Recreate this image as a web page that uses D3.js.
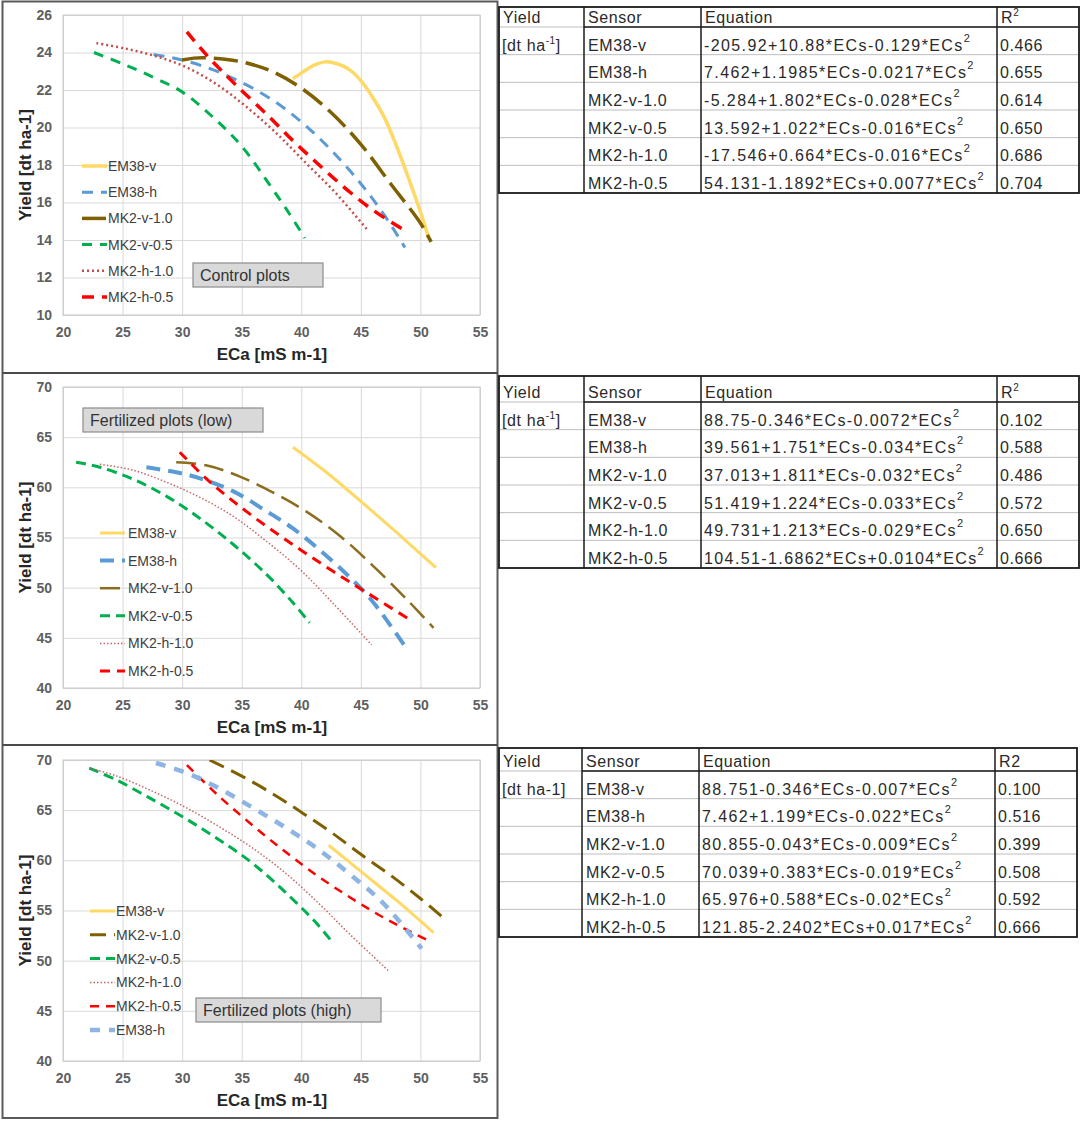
<!DOCTYPE html>
<html>
<head>
<meta charset="utf-8">
<script src="https://cdn.jsdelivr.net/npm/d3@7"></script>
<style>body{margin:0;background:#fff}</style>
</head>
<body>
<script>
// axis ticks
const xTicks = [20, 25, 30, 35, 40, 45, 50, 55];
const yTicksCtrl = [10, 12, 14, 16, 18, 20, 22, 24, 26];
const yTicksFert = [40, 45, 50, 55, 60, 65, 70];

// control plots, [ECa, yield]
const ctrlEM38v = [[39.3,22.6],[40,22.9],[41,23.3],[42,23.5],[43,23.4],[44,23.1],[45,22.5],[46,21.6],[47,20.5],[48,19.0],[49,17.3],[50,15.5],[50.7,14.1]];
const ctrlEM38h = [[27.6,23.9],[30,23.6],[32.5,23.1],[35,22.4],[37.5,21.5],[40,20.3],[42.5,18.8],[45,17.0],[47,15.3],[48.7,13.6]];
const ctrlMK2v10 = [[30,23.6],[31,23.7],[32.5,23.7],[35,23.5],[37.5,23.0],[40,22.1],[42.5,20.8],[45,19.1],[47.5,17.0],[50,14.9],[50.9,13.9]];
const ctrlMK2v05 = [[22.6,24.0],[25,23.4],[27.5,22.7],[30,21.9],[32.5,20.6],[35,19.0],[37.5,16.8],[39,15.4],[40.3,14.1]];
const ctrlMK2h10 = [[22.8,24.5],[25.3,24.2],[27.8,23.8],[30.4,23.2],[32.9,22.3],[35.4,21.1],[37.9,19.7],[40.4,18.1],[42.9,16.5],[45.6,14.5]];
const ctrlMK2h05 = [[30.4,25.1],[32,23.9],[34.3,22.4],[37.1,20.7],[39.3,19.3],[41.5,18.0],[43.8,16.7],[46,15.6],[48.7,14.5]];

// fertilized (low)
const lowEM38v = [[39.3,64.0],[42,61.6],[45,58.6],[48,55.5],[51.3,52.0]];
const lowEM38h = [[27,62.0],[29.5,61.5],[31.5,60.9],[34.3,59.6],[37.1,57.6],[39.3,55.9],[41.5,53.8],[44.1,51.0],[46,48.6],[48.8,44.0]];
const lowMK2v10 = [[29.5,62.5],[32,62.2],[34.8,61.1],[37.6,59.5],[40.4,57.6],[43.2,55.2],[46,52.2],[48.8,48.9],[51.1,46.0]];
const lowMK2v05 = [[21.1,62.5],[23.1,62.0],[25.9,60.8],[28.7,59.1],[31.5,56.9],[34.3,54.3],[37.1,51.3],[39.3,48.5],[40.7,46.5]];
const lowMK2h10 = [[23.1,62.3],[25.9,61.7],[28.7,60.5],[31.5,59.0],[34.3,57.1],[37.1,54.6],[39.9,51.8],[42.7,48.4],[45.9,44.3]];
const lowMK2h05 = [[29.8,63.5],[32,60.9],[34.3,58.6],[37.1,56.1],[39.9,53.8],[42.7,51.6],[45.5,49.5],[49.4,46.6]];

// fertilized (high)
const highEM38v = [[42.3,61.5],[45,58.9],[48,56.0],[51.1,52.8]];
const highMK2v10 = [[32.3,70.0],[35,68.4],[37.5,66.7],[40,64.8],[42.5,62.8],[45,60.6],[47.5,58.5],[50,56.2],[52,54.2]];
const highMK2v05 = [[22.2,69.2],[24.5,68.0],[27.3,66.2],[30.1,64.3],[32.9,62.2],[35.7,59.9],[38.5,57.0],[41.3,53.7],[42.7,51.7]];
const highMK2h10 = [[22.2,69.2],[24.5,68.4],[27.3,67.0],[30.1,65.4],[32.9,63.5],[35.7,61.4],[38.5,58.9],[41.3,55.9],[44.1,52.6],[47.4,48.9]];
const highMK2h05 = [[30.4,69.5],[32.9,66.6],[35.7,63.7],[38.5,61.0],[41.3,58.5],[44.1,56.3],[46.9,54.3],[50.5,52.1]];
const highEM38h = [[27.8,69.7],[30.4,68.7],[32.9,67.3],[35.7,65.4],[38.5,63.4],[41.3,61.2],[44.1,58.6],[46.9,55.7],[50.1,51.2]];

// tables
const tableSensors = ["EM38-v", "EM38-h", "MK2-v-1.0", "MK2-v-0.5", "MK2-h-1.0", "MK2-h-0.5"];
const eqCtrl = ["-205.92+10.88*ECs-0.129*ECs", "7.462+1.1985*ECs-0.0217*ECs", "-5.284+1.802*ECs-0.028*ECs",
                "13.592+1.022*ECs-0.016*ECs", "-17.546+0.664*ECs-0.016*ECs", "54.131-1.1892*ECs+0.0077*ECs"];
const r2Ctrl = ["0.466", "0.655", "0.614", "0.650", "0.686", "0.704"];
const eqLow = ["88.75-0.346*ECs-0.0072*ECs", "39.561+1.751*ECs-0.034*ECs", "37.013+1.811*ECs-0.032*ECs",
               "51.419+1.224*ECs-0.033*ECs", "49.731+1.213*ECs-0.029*ECs", "104.51-1.6862*ECs+0.0104*ECs"];
const r2Low = ["0.102", "0.588", "0.486", "0.572", "0.650", "0.666"];
const eqHigh = ["88.751-0.346*ECs-0.007*ECs", "7.462+1.199*ECs-0.022*ECs", "80.855-0.043*ECs-0.009*ECs",
                "70.039+0.383*ECs-0.019*ECs", "65.976+0.588*ECs-0.02*ECs", "121.85-2.2402*ECs+0.017*ECs"];
const r2High = ["0.100", "0.516", "0.399", "0.508", "0.592", "0.666"];

const font = "'Liberation Sans', Arial, sans-serif";
const svg = d3.select("body").append("svg")
    .attr("width", 1084).attr("height", 1129)
    .style("font-family", font);

const x = d3.scaleLinear().domain([20, 55]).range([63, 480]);

const panels = [
  {top: 15, bottom: 315, domain: [10, 26], ticks: yTicksCtrl, label: "Control plots", box: [193, 263, 130, 24],
   legend: {x0: 82, x1: 107, tx: 108, y0: 166, dy: 26.2},
   series: [
     {name: "EM38-v", data: ctrlEM38v, color: "#ffd966", w: 3.5, dash: null},
     {name: "EM38-h", data: ctrlEM38h, color: "#5b9bd5", w: 3, dash: "11,8"},
     {name: "MK2-v-1.0", data: ctrlMK2v10, color: "#7f6000", w: 3.5, dash: "24,8"},
     {name: "MK2-v-0.5", data: ctrlMK2v05, color: "#00b050", w: 3, dash: "10,8"},
     {name: "MK2-h-1.0", data: ctrlMK2h10, color: "#c0504d", w: 2.5, dash: "2,3"},
     {name: "MK2-h-0.5", data: ctrlMK2h05, color: "#ff0000", w: 3.5, dash: "12,8"}
   ]},
  {top: 387, bottom: 688, domain: [40, 70], ticks: yTicksFert, label: "Fertilized plots (low)", box: [83, 408, 180, 24],
   legend: {x0: 100, x1: 125, tx: 128, y0: 533, dy: 27.6},
   series: [
     {name: "EM38-v", data: lowEM38v, color: "#ffd966", w: 3, dash: null},
     {name: "EM38-h", data: lowEM38h, color: "#5b9bd5", w: 4, dash: "14,8"},
     {name: "MK2-v-1.0", data: lowMK2v10, color: "#8c6d1f", w: 2.5, dash: "20,8"},
     {name: "MK2-v-0.5", data: lowMK2v05, color: "#00b050", w: 3, dash: "10,6"},
     {name: "MK2-h-1.0", data: lowMK2h10, color: "#c86464", w: 1.5, dash: "1.5,2"},
     {name: "MK2-h-0.5", data: lowMK2h05, color: "#ff0000", w: 3, dash: "10,7"}
   ]},
  {top: 760, bottom: 1061, domain: [40, 70], ticks: yTicksFert, label: "Fertilized plots (high)", box: [196, 998, 185, 24],
   legend: {x0: 90, x1: 115, tx: 116, y0: 911, dy: 23.8},
   series: [
     {name: "EM38-v", data: highEM38v, color: "#ffd966", w: 3, dash: null},
     {name: "MK2-v-1.0", data: highMK2v10, color: "#7f6000", w: 3, dash: "16,8"},
     {name: "MK2-v-0.5", data: highMK2v05, color: "#00b050", w: 3, dash: "10,6"},
     {name: "MK2-h-1.0", data: highMK2h10, color: "#c86464", w: 1.5, dash: "1.5,2"},
     {name: "MK2-h-0.5", data: highMK2h05, color: "#ff0000", w: 2.5, dash: "9,7"},
     {name: "EM38-h", data: highEM38h, color: "#8eb4e3", w: 4.5, dash: "10,9"}
   ]}
];

panels.forEach(function(p, i) {
  const y = d3.scaleLinear().domain(p.domain).range([p.bottom, p.top]);
  const g = svg.append("g");

  // gridlines
  g.append("g").attr("transform", "translate(0," + p.bottom + ")")
    .call(d3.axisBottom(x).tickValues(xTicks).tickSize(-(p.bottom - p.top)).tickFormat(""))
    .call(a => a.select(".domain").remove())
    .selectAll("line").attr("stroke", "#d9d9d9");
  g.append("g").attr("transform", "translate(63,0)")
    .call(d3.axisLeft(y).tickValues(p.ticks).tickSize(-417).tickFormat(""))
    .call(a => a.select(".domain").remove())
    .selectAll("line").attr("stroke", "#d9d9d9");
  g.append("rect").attr("x", 63).attr("y", p.top).attr("width", 417).attr("height", p.bottom - p.top)
    .attr("fill", "none").attr("stroke", "#c8c8c8");

  // tick labels
  const xa = g.append("g").attr("transform", "translate(0," + p.bottom + ")")
    .call(d3.axisBottom(x).tickValues(xTicks).tickSize(0).tickPadding(12));
  const ya = g.append("g").attr("transform", "translate(63,0)")
    .call(d3.axisLeft(y).tickValues(p.ticks).tickSize(0).tickPadding(11));
  [xa, ya].forEach(function(a) {
    a.select(".domain").remove();
    a.selectAll("text").attr("font-family", font).attr("font-size", 14)
      .attr("font-weight", "bold").attr("fill", "#5f5f5f");
  });

  // titles
  g.append("text").attr("x", 272).attr("y", p.bottom + 45).attr("text-anchor", "middle")
    .attr("font-size", 17).attr("font-weight", "bold").attr("fill", "#262626").text("ECa [mS m-1]");
  g.append("text").attr("transform", "translate(31," + ((p.top + p.bottom) / 2) + ") rotate(-90)")
    .attr("text-anchor", "middle").attr("font-size", 17).attr("font-weight", "bold")
    .attr("fill", "#262626").text("Yield [dt ha-1]");

  // curves
  g.append("clipPath").attr("id", "clip" + i).append("rect")
    .attr("x", 63).attr("y", p.top).attr("width", 417).attr("height", p.bottom - p.top);
  const line = d3.line().x(d => x(d[0])).y(d => y(d[1])).curve(d3.curveCatmullRom.alpha(0.5));
  g.append("g").attr("clip-path", "url(#clip" + i + ")")
    .selectAll("path").data(p.series).join("path")
    .attr("d", s => line(s.data))
    .attr("fill", "none")
    .attr("stroke", s => s.color)
    .attr("stroke-width", s => s.w)
    .attr("stroke-dasharray", s => s.dash);

  // legend
  const lg = g.append("g").selectAll("g").data(p.series).join("g")
    .attr("transform", (s, k) => "translate(0," + (p.legend.y0 + k * p.legend.dy) + ")");
  lg.append("line").attr("x1", p.legend.x0).attr("x2", p.legend.x1)
    .attr("stroke", s => s.color).attr("stroke-width", s => s.w)
    .attr("stroke-dasharray", s => s.dash);
  lg.append("text").attr("x", p.legend.tx).attr("y", 5).attr("font-size", 14)
    .attr("fill", "#404040").text(s => s.name);

  // label box
  g.append("rect").attr("x", p.box[0]).attr("y", p.box[1]).attr("width", p.box[2]).attr("height", p.box[3])
    .attr("fill", "#d9d9d9").attr("stroke", "#8c8c8c").attr("stroke-width", 1.2);
  g.append("text").attr("x", p.box[0] + 7).attr("y", p.box[1] + p.box[3] / 2 + 6)
    .attr("font-size", 16).attr("fill", "#333").text(p.label);
});

// frame of the chart column
svg.append("rect").attr("x", 2.5).attr("y", 1.5).attr("width", 495).attr("height", 1116.5)
  .attr("fill", "none").attr("stroke", "#5a5a5a").attr("stroke-width", 2);
[373, 745].forEach(function(v) {
  svg.append("line").attr("x1", 2.5).attr("x2", 497.5).attr("y1", v).attr("y2", v)
    .attr("stroke", "#4a4a4a").attr("stroke-width", 2);
});

// tables
function drawTable(t) {
  const g = svg.append("g").attr("font-size", 16).attr("fill", "#2a2a2a").style("letter-spacing", "0.6px");
  const rowH = (t.bottom - t.head) / 6;
  const c = t.cols;
  // light row rules
  for (let k = 0; k < 6; k++) {
    const yy = t.head + k * rowH;
    g.append("line").attr("x1", c[0]).attr("x2", c[4]).attr("y1", yy).attr("y2", yy)
      .attr("stroke", "#bdbdbd").attr("stroke-width", 1);
  }
  g.append("line").attr("x1", c[1]).attr("x2", c[4]).attr("y1", t.head).attr("y2", t.head)
    .attr("stroke", "#1a1a1a").attr("stroke-width", 1.5);
  g.append("rect").attr("x", c[0]).attr("y", t.top).attr("width", c[4] - c[0]).attr("height", t.bottom - t.top)
    .attr("fill", "none").attr("stroke", "#1a1a1a").attr("stroke-width", 1.8);
  [c[1], c[2], c[3]].forEach(function(v) {
    g.append("line").attr("x1", v).attr("x2", v).attr("y1", t.top).attr("y2", t.bottom)
      .attr("stroke", "#1a1a1a").attr("stroke-width", 1.5);
  });

  // header
  const hy = t.head - 4;
  g.append("text").attr("x", c[0] + 4).attr("y", hy).text("Yield");
  g.append("text").attr("x", c[1] + 4).attr("y", hy).text("Sensor");
  g.append("text").attr("x", c[2] + 4).attr("y", hy).text("Equation");
  const r = g.append("text").attr("x", c[3] + 4).attr("y", hy).text("R");
  if (t.supR) {
    r.append("tspan").attr("dy", -7).attr("font-size", 10).text("2");
  } else {
    r.text("R2");
  }

  // units
  const u = g.append("text").attr("x", c[0] + 3).attr("y", t.head + rowH - 4);
  if (t.supUnit) {
    u.append("tspan").text("[dt ha");
    u.append("tspan").attr("dy", -7).attr("font-size", 10).text("-1");
    u.append("tspan").attr("dy", 7).text("]");
  } else {
    u.text("[dt ha-1]");
  }

  tableSensors.forEach(function(s, k) {
    const by = t.head + (k + 1) * rowH - 4;
    g.append("text").attr("x", c[1] + 4).attr("y", by).text(s);
    const e = g.append("text").attr("x", c[2] + 3).attr("y", by).style("letter-spacing", "1.4px");
    e.append("tspan").text(t.eq[k]);
    e.append("tspan").attr("dy", -9).attr("font-size", 11).text("2");
    g.append("text").attr("x", c[3] + 3).attr("y", by).text(t.r2[k]);
  });
}

drawTable({top: 7, head: 27, bottom: 193, cols: [499, 584, 701, 997, 1079], eq: eqCtrl, r2: r2Ctrl, supR: true, supUnit: true});
drawTable({top: 376, head: 402, bottom: 568, cols: [499, 584, 701, 997, 1079], eq: eqLow, r2: r2Low, supR: true, supUnit: true});
drawTable({top: 748, head: 771, bottom: 937, cols: [499, 582, 699, 995, 1077], eq: eqHigh, r2: r2High, supR: false, supUnit: false});
</script>
</body>
</html>
